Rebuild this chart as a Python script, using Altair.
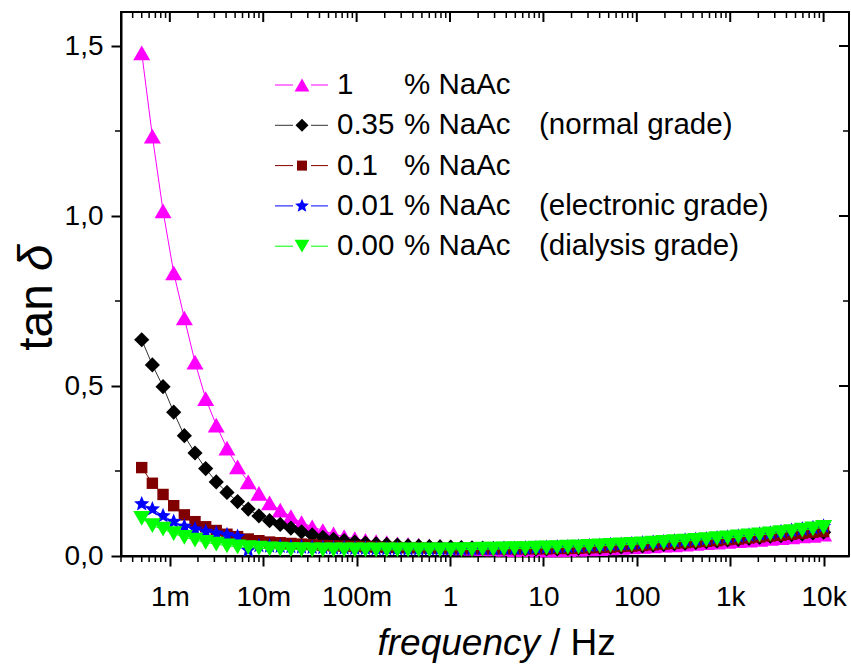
import altair as alt
import pandas as pd

# ---------------- data ----------------
freq = [5.00e-4, 6.50e-4, 8.46e-4, 1.10e-3, 1.43e-3, 1.86e-3, 2.42e-3, 3.14e-3, 4.09e-3, 5.31e-3,
        6.91e-3, 8.99e-3, 1.169e-2, 1.520e-2, 1.977e-2, 2.571e-2, 3.343e-2, 4.347e-2, 5.654e-2, 7.352e-2,
        9.56e-2, 0.1243, 0.1617, 0.2102, 0.2734, 0.3555, 0.4623, 0.6012, 0.7818, 1.017,
        1.322, 1.719, 2.236, 2.907, 3.781, 4.917, 6.394, 8.315, 10.81, 14.06,
        18.28, 23.78, 30.92, 40.21, 52.28, 67.99, 88.41, 115.0, 149.5, 194.4,
        252.8, 328.8, 427.6, 555.9, 722.9, 940.1, 1222, 1590, 2067, 2689,
        3496, 4547, 5912, 7688, 10000]

tan_1pct = [1.480, 1.235, 1.015, 0.833, 0.700, 0.570, 0.463, 0.385, 0.317, 0.262,
            0.218, 0.184, 0.156, 0.135, 0.116, 0.098, 0.086, 0.075, 0.065, 0.057,
            0.051, 0.046, 0.042, 0.039, 0.036, 0.034, 0.032, 0.030, 0.028, 0.026,
            0.024, 0.023, 0.022, 0.021, 0.020, 0.019, 0.019, 0.018, 0.018, 0.018,
            0.019, 0.020, 0.021, 0.022, 0.024, 0.025, 0.027, 0.028, 0.030, 0.032,
            0.033, 0.035, 0.037, 0.039, 0.041, 0.043, 0.045, 0.047, 0.049, 0.052,
            0.054, 0.056, 0.059, 0.061, 0.064]

tan_035pct = [0.636, 0.562, 0.498, 0.423, 0.354, 0.303, 0.257, 0.218, 0.187, 0.160,
              0.138, 0.118, 0.104, 0.093, 0.082, 0.071, 0.062, 0.055, 0.049, 0.045,
              0.041, 0.038, 0.036, 0.034, 0.032, 0.030, 0.029, 0.028, 0.027, 0.026,
              0.025, 0.024, 0.023, 0.022, 0.022, 0.021, 0.021, 0.021, 0.021, 0.021,
              0.022, 0.023, 0.024, 0.025, 0.026, 0.027, 0.029, 0.030, 0.032, 0.034,
              0.036, 0.038, 0.040, 0.042, 0.044, 0.047, 0.049, 0.052, 0.055, 0.058,
              0.060, 0.063, 0.065, 0.068, 0.070]

tan_01pct = [0.260, 0.214, 0.181, 0.148, 0.121, 0.101, 0.086, 0.075, 0.064, 0.057,
             0.050, 0.045, 0.041, 0.039, 0.037, 0.035, 0.033, 0.031, 0.030, 0.029,
             0.028, 0.027, 0.026, 0.025, 0.025, 0.024, 0.024, 0.023, 0.023, 0.022,
             0.022, 0.022, 0.021, 0.021, 0.021, 0.021, 0.021, 0.021, 0.021, 0.022,
             0.022, 0.023, 0.024, 0.025, 0.026, 0.028, 0.029, 0.031, 0.033, 0.035,
             0.037, 0.039, 0.041, 0.043, 0.045, 0.048, 0.050, 0.053, 0.056, 0.059,
             0.061, 0.064, 0.067, 0.070, 0.072]

tan_001pct = [0.153, 0.138, 0.118, 0.101, 0.087, 0.079, 0.072, 0.067, 0.062, 0.057,
              0.017, 0.030, 0.029, 0.028, 0.027, 0.026, 0.025, 0.024, 0.023, 0.023,
              0.022, 0.022, 0.021, 0.021, 0.021, 0.020, 0.020, 0.020, 0.020, 0.020,
              0.020, 0.020, 0.021, 0.021, 0.022, 0.022, 0.023, 0.024, 0.025, 0.026,
              0.027, 0.028, 0.030, 0.031, 0.033, 0.034, 0.036, 0.038, 0.040, 0.042,
              0.044, 0.046, 0.048, 0.050, 0.053, 0.055, 0.058, 0.061, 0.064, 0.067,
              0.071, 0.075, 0.079, 0.083, 0.087]

tan_000pct = [0.111, 0.089, 0.079, 0.066, 0.055, 0.047, 0.040, 0.035, 0.030, 0.027,
              0.025, 0.023, 0.021, 0.020, 0.019, 0.019, 0.018, 0.018, 0.018, 0.018,
              0.018, 0.018, 0.018, 0.018, 0.018, 0.018, 0.018, 0.018, 0.018, 0.018,
              0.019, 0.019, 0.020, 0.020, 0.021, 0.022, 0.022, 0.023, 0.024, 0.025,
              0.026, 0.027, 0.028, 0.030, 0.031, 0.033, 0.034, 0.036, 0.038, 0.040,
              0.042, 0.044, 0.046, 0.048, 0.051, 0.053, 0.056, 0.059, 0.062, 0.065,
              0.069, 0.072, 0.076, 0.080, 0.084]

series_values = [tan_1pct, tan_035pct, tan_01pct, tan_001pct, tan_000pct]
legend_conc = ["1", "0.35", "0.1", "0.01", "0.00"]
legend_unit = ["% NaAc", "% NaAc", "% NaAc", "% NaAc", "% NaAc"]
legend_grade = ["", "(normal grade)", "", "(electronic grade)", "(dialysis grade)"]

x_major = [0.001, 0.01, 0.1, 1, 10, 100, 1000, 10000]
x_labels = ["1m", "10m", "100m", "1", "10", "100", "1k", "10k"]
y_major = [0.0, 0.5, 1.0, 1.5]
y_minor = [0.25, 0.75, 1.25]

# ---------------- styling ----------------
FONT = "Liberation Sans"
W, H = 728, 544
STAR = ("M0,-1L0.265,-0.364L0.951,-0.309L0.428,0.139L0.588,0.809L0,0.45"
        "L-0.588,0.809L-0.428,0.139L-0.951,-0.309L-0.265,-0.364Z")
colors = ["#FF00FF", "#000000", "#800000", "#0000FF", "#00FF00"]
line_colors = ["#FF00FF", "#333333", "#800000", "#0000FF", "#00FF00"]
shapes = ["triangle-up", "diamond", "square", STAR, "triangle-down"]
sizes = [290, 230, 130, 260, 290]
legend_sizes = [220, 170, 100, 210, 220]

x_minor = [m * 10.0 ** d for d in range(-4, 5) for m in range(2, 10)
           if 3e-4 <= m * 10.0 ** d <= 1.87e4]

xscale = alt.Scale(type="log", domain=[3e-4, 1.87e4], nice=False)
yscale = alt.Scale(domain=[0, 1.6], nice=False, zero=False)

# label expression: nested conditions built from the tick lists
label_expr = "''"
for v, l in reversed(list(zip(x_major, x_labels))):
    label_expr = f"(datum.value < {v * 3.0!r} ? '{l}' : {label_expr})"

xaxis = alt.Axis(values=x_major, title=None, grid=False,
                 labelExpr=label_expr,
                 tickSize=10, tickWidth=2, tickColor="black",
                 domainWidth=2, domainColor="black",
                 labelFont=FONT, labelFontSize=28, labelColor="black",
                 labelPadding=17, labelFlush=False, labelOverlap=False)
yaxis = alt.Axis(values=y_major, title=None, grid=False,
                 labelExpr="replace(format(datum.value, '.1f'), '.', ',')",
                 tickSize=10, tickWidth=2, tickColor="black",
                 domainWidth=2, domainColor="black",
                 labelFont=FONT, labelFontSize=28, labelColor="black",
                 labelPadding=8, labelOverlap=False)

layers = []

# data series: line + symbols, in drawing order
for k in range(5):
    df = pd.DataFrame({"freq": freq, "value": series_values[k]})
    base = alt.Chart(df)
    layers.append(base.mark_line(color=line_colors[k], strokeWidth=1).encode(
        x=alt.X("freq:Q", scale=xscale, axis=xaxis),
        y=alt.Y("value:Q", scale=yscale, axis=yaxis)))
    layers.append(base.mark_point(shape=shapes[k], filled=True, size=sizes[k],
                                  color=colors[k], opacity=1, strokeWidth=0).encode(
        x=alt.X("freq:Q", scale=xscale, axis=xaxis),
        y=alt.Y("value:Q", scale=yscale, axis=yaxis)))

# minor / mirrored ticks
xmin_df = pd.DataFrame({"freq": x_minor})
xmaj_df = pd.DataFrame({"freq": x_major})
ymin_df = pd.DataFrame({"value": y_minor})
ymaj_df = pd.DataFrame({"value": y_major})
tick_color = "black"
layers.append(alt.Chart(xmin_df).mark_rule(color=tick_color, strokeWidth=1.5).encode(
    x=alt.X("freq:Q", scale=xscale, axis=xaxis), y=alt.value(H), y2=alt.value(H + 6)))
layers.append(alt.Chart(xmin_df).mark_rule(color=tick_color, strokeWidth=1.5).encode(
    x=alt.X("freq:Q", scale=xscale, axis=xaxis), y=alt.value(0), y2=alt.value(6)))
layers.append(alt.Chart(xmaj_df).mark_rule(color=tick_color, strokeWidth=2).encode(
    x=alt.X("freq:Q", scale=xscale, axis=xaxis), y=alt.value(0), y2=alt.value(10)))
layers.append(alt.Chart(ymin_df).mark_rule(color=tick_color, strokeWidth=1.5).encode(
    y=alt.Y("value:Q", scale=yscale, axis=yaxis), x=alt.value(-6), x2=alt.value(0)))
layers.append(alt.Chart(ymin_df).mark_rule(color=tick_color, strokeWidth=1.5).encode(
    y=alt.Y("value:Q", scale=yscale, axis=yaxis), x=alt.value(W - 6), x2=alt.value(W)))
layers.append(alt.Chart(ymaj_df).mark_rule(color=tick_color, strokeWidth=2).encode(
    y=alt.Y("value:Q", scale=yscale, axis=yaxis), x=alt.value(W - 10), x2=alt.value(W)))

# custom legend
one = pd.DataFrame({"a": [0]})
for k in range(5):
    ly = 73 + 40.3 * k
    c1 = alt.Chart(one)
    layers.append(c1.mark_rule(color=line_colors[k], strokeWidth=1).encode(
        x=alt.value(154), x2=alt.value(172), y=alt.value(ly)))
    layers.append(c1.mark_rule(color=line_colors[k], strokeWidth=1).encode(
        x=alt.value(190), x2=alt.value(207), y=alt.value(ly)))
    layers.append(c1.mark_point(shape=shapes[k], filled=True, size=legend_sizes[k],
                                color=colors[k], opacity=1, strokeWidth=0).encode(
        x=alt.value(181), y=alt.value(ly)))
    for txt, xp in [(legend_conc[k], 216), (legend_unit[k], 283), (legend_grade[k], 418)]:
        if txt:
            layers.append(c1.mark_text(align="left", baseline="middle", font=FONT,
                                       fontSize=29.5, color="black").encode(
                x=alt.value(xp), y=alt.value(ly), text=alt.value(txt)))

# axis titles (mixed italic / upright)
c1 = alt.Chart(one)
layers.append(c1.mark_text(align="right", baseline="middle", font=FONT, fontSize=37,
                           fontStyle="italic", color="black").encode(
    x=alt.value(419), y=alt.value(632), text=alt.value("frequency")))
layers.append(c1.mark_text(align="left", baseline="middle", font=FONT, fontSize=37,
                           color="black").encode(
    x=alt.value(429), y=alt.value(632), text=alt.value("/ Hz")))
layers.append(c1.mark_text(align="right", baseline="middle", font=FONT, fontSize=48,
                           angle=270, color="black").encode(
    x=alt.value(-83), y=alt.value(272), text=alt.value("tan")))
layers.append(c1.mark_text(align="left", baseline="middle", font=FONT, fontSize=48,
                           fontStyle="italic", angle=270, color="black").encode(
    x=alt.value(-83), y=alt.value(259), text=alt.value("δ")))

chart = alt.layer(*layers).properties(
    width=W, height=H,
    autosize=alt.AutoSizeParams(type="none"),
    padding={"left": 121, "top": 12, "right": 2, "bottom": 110},
    background="white",
).configure_view(stroke="black", strokeWidth=2)

chart.save("out.html", embed_options={"renderer": "svg", "actions": False})
